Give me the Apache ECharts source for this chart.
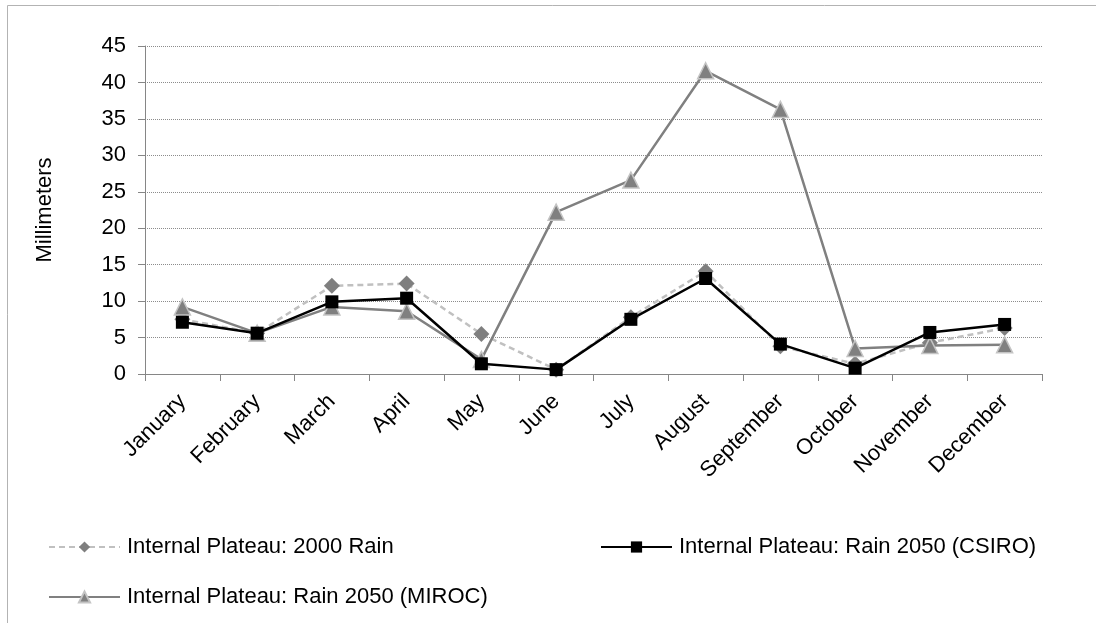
<!DOCTYPE html>
<html>
<head>
<meta charset="utf-8">
<script src="https://cdn.jsdelivr.net/npm/echarts@6/dist/echarts.min.js"></script>
<style>
  html, body { margin: 0; padding: 0; background: #ffffff; }
  #chart { width: 1096px; height: 623px; }
</style>
</head>
<body>
<div id="chart"></div>
<script>
// Monthly rainfall, Internal Plateau (mm)
const months = ['January', 'February', 'March', 'April', 'May', 'June', 'July',
  'August', 'September', 'October', 'November', 'December'];
const rain2000 = [7.5, 5.6, 12.1, 12.4, 5.5, 0.6, 7.8, 14.1, 3.8, 1.4, 4.3, 6.3];
const rainCsiro = [7.1, 5.6, 9.9, 10.4, 1.4, 0.6, 7.5, 13.1, 4.1, 0.8, 5.7, 6.8];
const rainMiroc = [9.2, 5.6, 9.2, 8.6, 2.0, 22.2, 26.6, 41.6, 36.3, 3.5, 3.9, 4.0];
const yTicks = [0, 5, 10, 15, 20, 25, 30, 35, 40, 45];

const names = [
  'Internal Plateau: 2000 Rain',
  'Internal Plateau: Rain 2050 (CSIRO)',
  'Internal Plateau: Rain 2050 (MIROC)'
];

const font = '"Liberation Sans", Arial, sans-serif';
const chart = echarts.init(document.getElementById('chart'), null, { renderer: 'canvas' });

const legendBase = {
  orient: 'horizontal',
  itemWidth: 71,
  itemHeight: 14,
  itemGap: 0,
  textStyle: { fontFamily: font, fontSize: 22, color: '#000', padding: [0, 0, 0, 2] }
};

chart.setOption({
  animation: false,
  backgroundColor: '#ffffff',
  graphic: [{
    type: 'rect',
    shape: { x: 7.5, y: 5.5, width: 1100, height: 640 },
    style: { fill: 'none', stroke: '#b3b3b3', lineWidth: 1 },
    silent: true
  }],
  grid: { left: 145, right: 54, top: 46, bottom: 249, containLabel: false },
  legend: [
    Object.assign({}, legendBase, { data: [names[0]], left: 43, top: 531 }),
    Object.assign({}, legendBase, { data: [names[1]], left: 595, top: 531 }),
    Object.assign({}, legendBase, { data: [names[2]], left: 43, top: 581 })
  ],
  xAxis: {
    type: 'category',
    data: months,
    boundaryGap: true,
    axisLine: { lineStyle: { color: '#868686', width: 1 } },
    axisTick: { show: true, alignWithLabel: false, length: 7, lineStyle: { color: '#868686' } },
    axisLabel: {
      rotate: 45,
      interval: 0,
      margin: 24,
      fontFamily: font,
      fontSize: 22,
      color: '#000'
    },
    splitLine: { show: false }
  },
  yAxis: {
    type: 'value',
    min: yTicks[0],
    max: yTicks[yTicks.length - 1],
    interval: 5,
    name: 'Millimeters',
    nameLocation: 'middle',
    nameGap: 89,
    nameRotate: 90,
    nameTextStyle: { fontFamily: font, fontSize: 22, color: '#000' },
    axisLine: { show: true, lineStyle: { color: '#868686', width: 1 } },
    axisTick: { show: true, length: 7, lineStyle: { color: '#868686' } },
    axisLabel: { fontFamily: font, fontSize: 22, color: '#000', margin: 19 },
    splitLine: { show: true, lineStyle: { color: '#8c8c8c', type: [1, 1], width: 1 } }
  },
  series: [
    {
      name: names[0],
      type: 'line',
      data: rain2000,
      symbol: 'diamond',
      symbolSize: 16,
      z: 2,
      lineStyle: { color: '#c0c0c0', width: 2.5, type: [6, 4] },
      itemStyle: { color: '#7f7f7f', borderColor: '#7f7f7f', borderWidth: 0 }
    },
    {
      name: names[2],
      type: 'line',
      data: rainMiroc,
      symbol: 'triangle',
      symbolSize: 16,
      z: 3,
      lineStyle: { color: '#808080', width: 2.5 },
      itemStyle: { color: '#808080', borderColor: '#c4c4c4', borderWidth: 1.5 }
    },
    {
      name: names[1],
      type: 'line',
      data: rainCsiro,
      symbol: 'rect',
      symbolSize: 13,
      z: 4,
      lineStyle: { color: '#000000', width: 2.5 },
      itemStyle: { color: '#000000', borderColor: '#000000', borderWidth: 0 }
    }
  ]
});
</script>
</body>
</html>
